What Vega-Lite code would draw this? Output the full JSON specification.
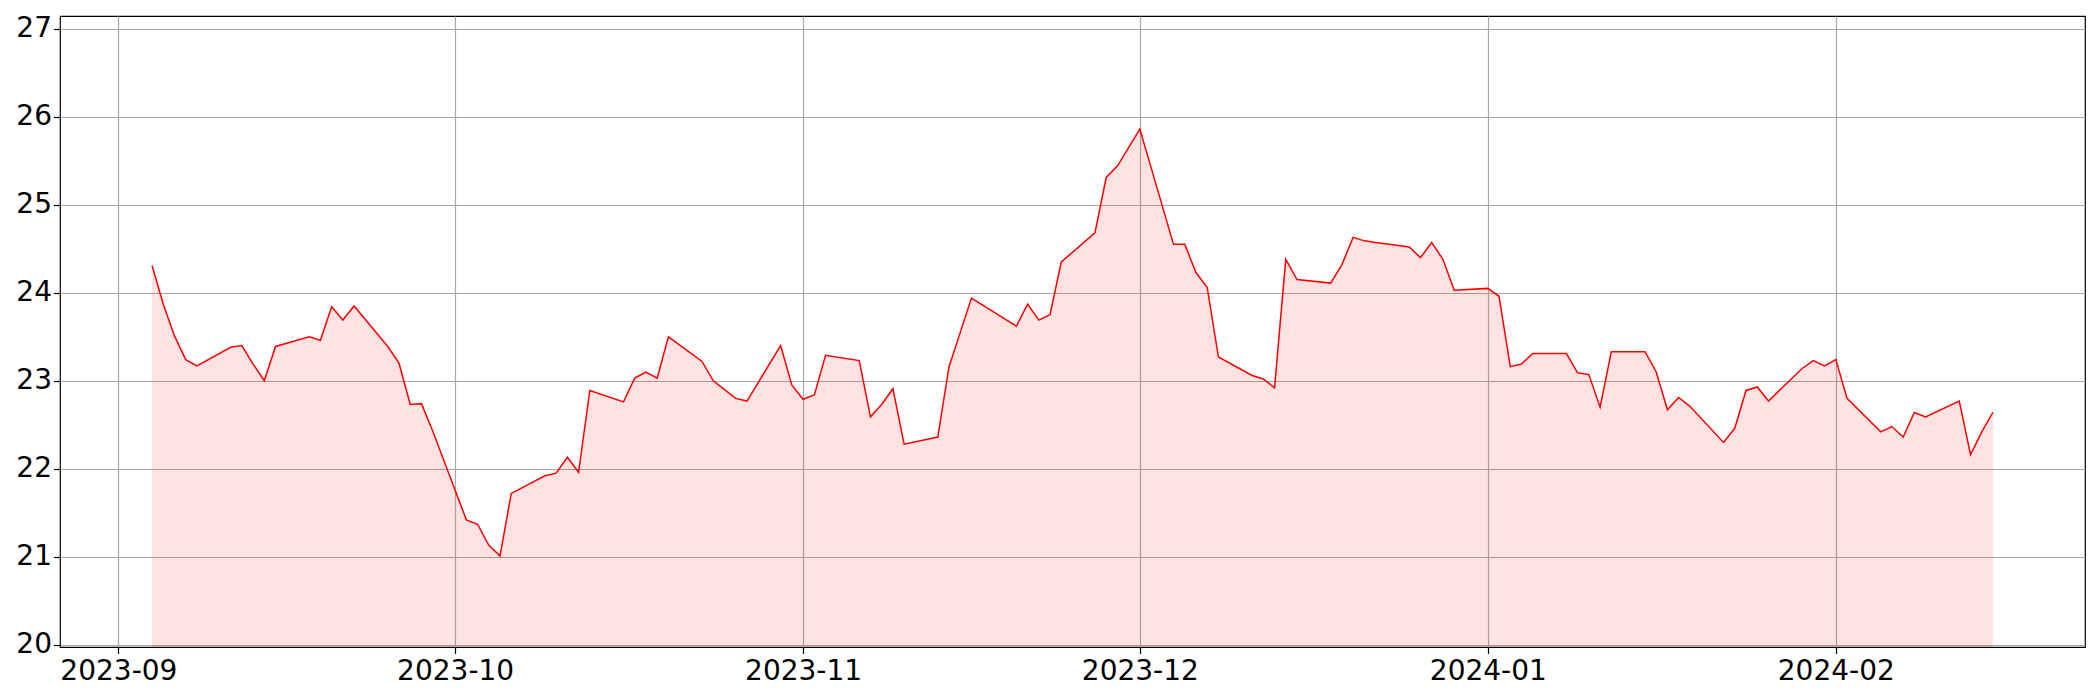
{
  "$schema": "https://vega.github.io/schema/vega-lite/v6.json",
  "width": 2025,
  "height": 631,
  "autosize": {"type": "none"},
  "padding": {"left": 60, "top": 16, "right": 15, "bottom": 53},
  "background": "white",
  "config": {
    "view": {"stroke": "black", "strokeWidth": 1.2},
    "font": "DejaVu Sans",
    "axis": {
      "domain": false,
      "grid": true,
      "gridColor": "#a8a8a8",
      "gridWidth": 1.2,
      "tickColor": "black",
      "tickWidth": 1.2,
      "tickSize": 6.5,
      "labelFont": "DejaVu Sans",
      "labelFontSize": 28,
      "labelColor": "black",
      "title": null
    }
  },
  "data": {
    "values": [
      {"date": "2023-09-04", "value": 24.31},
      {"date": "2023-09-05", "value": 23.87},
      {"date": "2023-09-06", "value": 23.51},
      {"date": "2023-09-07", "value": 23.24},
      {"date": "2023-09-08", "value": 23.17},
      {"date": "2023-09-11", "value": 23.38},
      {"date": "2023-09-12", "value": 23.40},
      {"date": "2023-09-13", "value": 23.19},
      {"date": "2023-09-14", "value": 23.00},
      {"date": "2023-09-15", "value": 23.39},
      {"date": "2023-09-18", "value": 23.50},
      {"date": "2023-09-19", "value": 23.46},
      {"date": "2023-09-20", "value": 23.84},
      {"date": "2023-09-21", "value": 23.69},
      {"date": "2023-09-22", "value": 23.85},
      {"date": "2023-09-25", "value": 23.39},
      {"date": "2023-09-26", "value": 23.20},
      {"date": "2023-09-27", "value": 22.73},
      {"date": "2023-09-28", "value": 22.74},
      {"date": "2023-09-29", "value": 22.43},
      {"date": "2023-10-02", "value": 21.42},
      {"date": "2023-10-03", "value": 21.37},
      {"date": "2023-10-04", "value": 21.13},
      {"date": "2023-10-05", "value": 21.01},
      {"date": "2023-10-06", "value": 21.72},
      {"date": "2023-10-09", "value": 21.92},
      {"date": "2023-10-10", "value": 21.95},
      {"date": "2023-10-11", "value": 22.13},
      {"date": "2023-10-12", "value": 21.96},
      {"date": "2023-10-13", "value": 22.89},
      {"date": "2023-10-16", "value": 22.76},
      {"date": "2023-10-17", "value": 23.03},
      {"date": "2023-10-18", "value": 23.10},
      {"date": "2023-10-19", "value": 23.03},
      {"date": "2023-10-20", "value": 23.50},
      {"date": "2023-10-23", "value": 23.22},
      {"date": "2023-10-24", "value": 23.00},
      {"date": "2023-10-25", "value": 22.90},
      {"date": "2023-10-26", "value": 22.80},
      {"date": "2023-10-27", "value": 22.77},
      {"date": "2023-10-30", "value": 23.40},
      {"date": "2023-10-31", "value": 22.95},
      {"date": "2023-11-01", "value": 22.79},
      {"date": "2023-11-02", "value": 22.84},
      {"date": "2023-11-03", "value": 23.29},
      {"date": "2023-11-06", "value": 23.23},
      {"date": "2023-11-07", "value": 22.59},
      {"date": "2023-11-08", "value": 22.73},
      {"date": "2023-11-09", "value": 22.91},
      {"date": "2023-11-10", "value": 22.28},
      {"date": "2023-11-13", "value": 22.36},
      {"date": "2023-11-14", "value": 23.16},
      {"date": "2023-11-15", "value": 23.55},
      {"date": "2023-11-16", "value": 23.94},
      {"date": "2023-11-17", "value": 23.86},
      {"date": "2023-11-20", "value": 23.62},
      {"date": "2023-11-21", "value": 23.87},
      {"date": "2023-11-22", "value": 23.69},
      {"date": "2023-11-23", "value": 23.75},
      {"date": "2023-11-24", "value": 24.35},
      {"date": "2023-11-27", "value": 24.68},
      {"date": "2023-11-28", "value": 25.31},
      {"date": "2023-11-29", "value": 25.44},
      {"date": "2023-11-30", "value": 25.65},
      {"date": "2023-12-01", "value": 25.86},
      {"date": "2023-12-04", "value": 24.55},
      {"date": "2023-12-05", "value": 24.55},
      {"date": "2023-12-06", "value": 24.23},
      {"date": "2023-12-07", "value": 24.06},
      {"date": "2023-12-08", "value": 23.27},
      {"date": "2023-12-11", "value": 23.06},
      {"date": "2023-12-12", "value": 23.02},
      {"date": "2023-12-13", "value": 22.92},
      {"date": "2023-12-14", "value": 24.38},
      {"date": "2023-12-15", "value": 24.15},
      {"date": "2023-12-18", "value": 24.11},
      {"date": "2023-12-19", "value": 24.32},
      {"date": "2023-12-20", "value": 24.63},
      {"date": "2023-12-21", "value": 24.59},
      {"date": "2023-12-22", "value": 24.57},
      {"date": "2023-12-25", "value": 24.52},
      {"date": "2023-12-26", "value": 24.40},
      {"date": "2023-12-27", "value": 24.57},
      {"date": "2023-12-28", "value": 24.38},
      {"date": "2023-12-29", "value": 24.03},
      {"date": "2024-01-01", "value": 24.05},
      {"date": "2024-01-02", "value": 23.96},
      {"date": "2024-01-03", "value": 23.16},
      {"date": "2024-01-04", "value": 23.19},
      {"date": "2024-01-05", "value": 23.31},
      {"date": "2024-01-08", "value": 23.31},
      {"date": "2024-01-09", "value": 23.09},
      {"date": "2024-01-10", "value": 23.07},
      {"date": "2024-01-11", "value": 22.70},
      {"date": "2024-01-12", "value": 23.33},
      {"date": "2024-01-15", "value": 23.33},
      {"date": "2024-01-16", "value": 23.10},
      {"date": "2024-01-17", "value": 22.67},
      {"date": "2024-01-18", "value": 22.81},
      {"date": "2024-01-19", "value": 22.71},
      {"date": "2024-01-22", "value": 22.30},
      {"date": "2024-01-23", "value": 22.46},
      {"date": "2024-01-24", "value": 22.89},
      {"date": "2024-01-25", "value": 22.93},
      {"date": "2024-01-26", "value": 22.77},
      {"date": "2024-01-29", "value": 23.14},
      {"date": "2024-01-30", "value": 23.23},
      {"date": "2024-01-31", "value": 23.17},
      {"date": "2024-02-01", "value": 23.24},
      {"date": "2024-02-02", "value": 22.80},
      {"date": "2024-02-05", "value": 22.42},
      {"date": "2024-02-06", "value": 22.48},
      {"date": "2024-02-07", "value": 22.36},
      {"date": "2024-02-08", "value": 22.64},
      {"date": "2024-02-09", "value": 22.59},
      {"date": "2024-02-12", "value": 22.77},
      {"date": "2024-02-13", "value": 22.16},
      {"date": "2024-02-14", "value": 22.42},
      {"date": "2024-02-15", "value": 22.64}
    ]
  },
  "encoding": {
    "x": {
      "field": "date",
      "type": "temporal",
      "scale": {
        "type": "utc",
        "domain": [
          {"year": 2023, "month": 8, "date": 26, "hours": 19, "minutes": 12, "utc": true},
          {"year": 2024, "month": 2, "date": 23, "hours": 4, "minutes": 48, "utc": true}
        ]
      },
      "axis": {
        "format": "%Y-%m",
        "labelPadding": 4,
        "values": [
          {"year": 2023, "month": 9, "date": 1, "utc": true},
          {"year": 2023, "month": 10, "date": 1, "utc": true},
          {"year": 2023, "month": 11, "date": 1, "utc": true},
          {"year": 2023, "month": 12, "date": 1, "utc": true},
          {"year": 2024, "month": 1, "date": 1, "utc": true},
          {"year": 2024, "month": 2, "date": 1, "utc": true}
        ]
      }
    },
    "y": {
      "field": "value",
      "type": "quantitative",
      "scale": {"domain": [19.975, 27.145], "zero": false, "nice": false},
      "axis": {"values": [20, 21, 22, 23, 24, 25, 26, 27], "format": "d", "labelPadding": 2}
    }
  },
  "layer": [
    {"mark": {"type": "area", "color": "red", "fillOpacity": 0.11, "clip": true}},
    {"mark": {"type": "line", "color": "red", "strokeWidth": 1.5, "clip": true}}
  ]
}
